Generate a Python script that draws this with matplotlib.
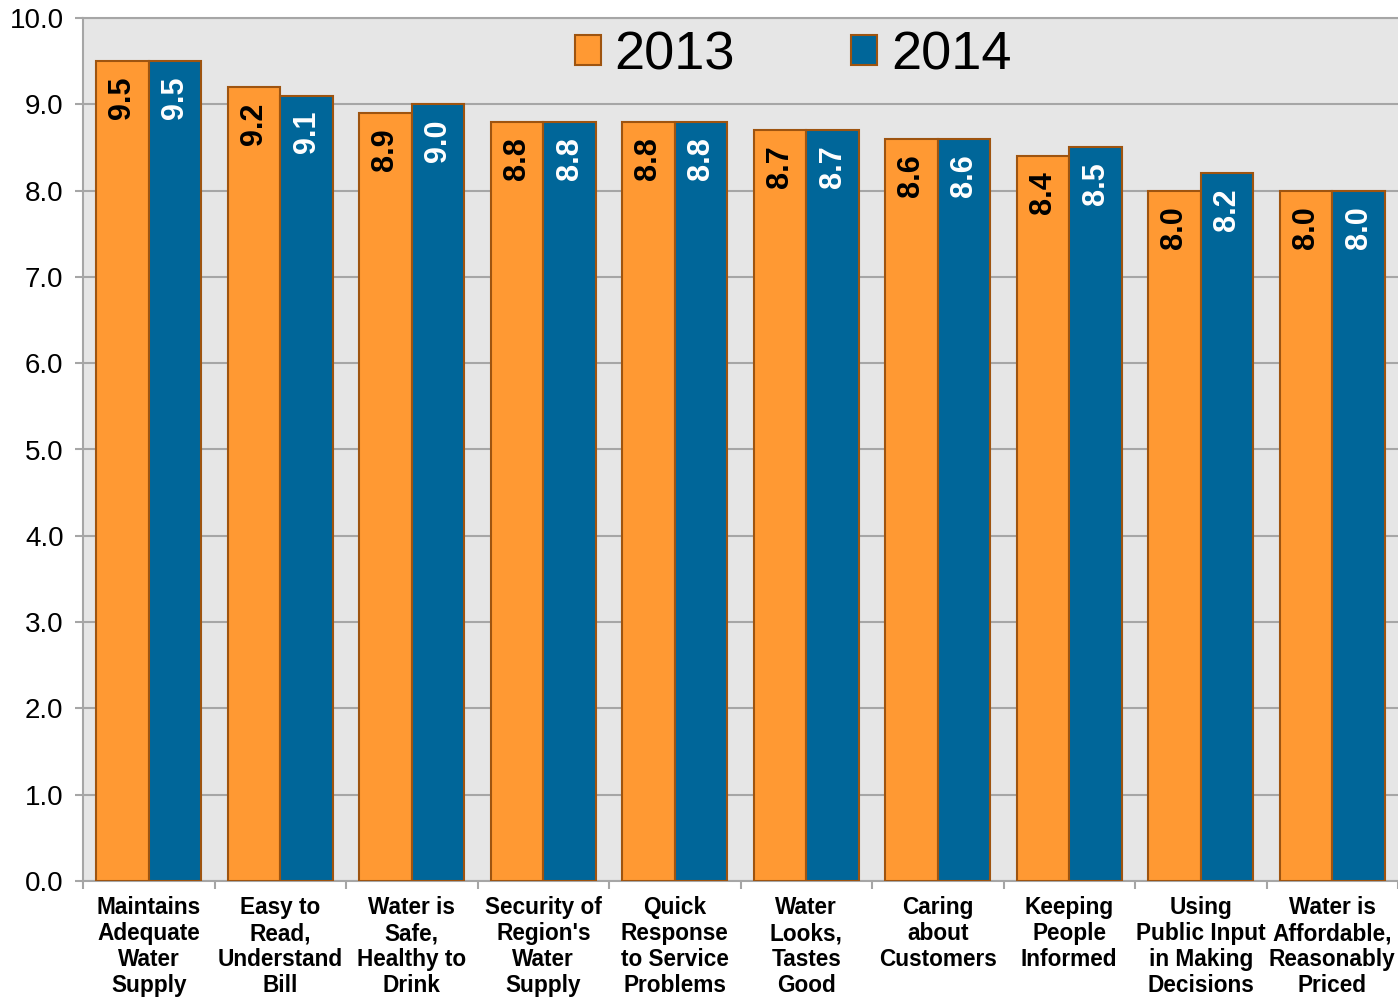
import numpy as np
import matplotlib.pyplot as plt

# ------------------------- Data -------------------------
categories = [
    "Maintains\nAdequate\nWater\nSupply",
    "Easy to\nRead,\nUnderstand\nBill",
    "Water is\nSafe,\nHealthy to\nDrink",
    "Security of\nRegion's\nWater\nSupply",
    "Quick\nResponse\nto Service\nProblems",
    "Water\nLooks,\nTastes\nGood",
    "Caring\nabout\nCustomers",
    "Keeping\nPeople\nInformed",
    "Using\nPublic Input\nin Making\nDecisions",
    "Water is\nAffordable,\nReasonably\nPriced",
]
scores_2013 = [9.5, 9.2, 8.9, 8.8, 8.8, 8.7, 8.6, 8.4, 8.0, 8.0]
scores_2014 = [9.5, 9.1, 9.0, 8.8, 8.8, 8.7, 8.6, 8.5, 8.2, 8.0]

ORANGE = "#FF9933"
BLUE = "#006699"
EDGE = "#9E5410"
GRID = "#A6A6A6"

plt.rcParams['font.family'] = ['Liberation Sans', 'DejaVu Sans']

fig = plt.figure(figsize=(13.98, 9.98), dpi=100)
ax = fig.add_axes([83 / 1398, 1 - 881 / 998, 1 - 83 / 1398, (881 - 18) / 998])
ax.set_facecolor("#E6E6E6")

x = np.arange(len(categories))
w = 0.4
b1 = ax.bar(x - w / 2, scores_2013, w, color=ORANGE, edgecolor=EDGE, linewidth=1.5,
            label="2013", zorder=3)
b2 = ax.bar(x + w / 2, scores_2014, w, color=BLUE, edgecolor=EDGE, linewidth=1.5,
            label="2014", zorder=3)

# value labels inside the bar tops
for bars, vals, col in [(b1, scores_2013, "black"), (b2, scores_2014, "white")]:
    for rect, v in zip(bars, vals):
        ax.annotate(f"{v:.1f}", (rect.get_x() + rect.get_width() / 2, v),
                    xytext=(0, -11), textcoords="offset points",
                    rotation=90, ha="center", va="top",
                    fontsize=22, fontweight="bold", color=col, zorder=4)

ax.set_xlim(-0.5, len(categories) - 0.5)
ax.set_ylim(0, 10)
ax.set_yticks(np.arange(0, 10.1, 1))
ax.set_yticklabels([f"{t:.1f}" for t in np.arange(0, 10.1, 1)], fontsize=20)
ax.yaxis.grid(True, color=GRID, linewidth=1.5, zorder=0)
ax.set_axisbelow(True)

# boundaries as major ticks, labels at centres as minor ticks
ax.set_xticks(np.arange(-0.5, len(categories), 1))
ax.set_xticklabels([])
ax.set_xticks(x, minor=True)
ax.set_xticklabels(categories, minor=True, fontsize=16.3, fontweight="bold",
                   linespacing=1.17)
ax.tick_params(axis="x", which="minor", length=0, pad=11)
ax.tick_params(axis="x", which="major", length=6, width=1.5, color=GRID)
ax.tick_params(axis="y", length=6, width=1.5, color=GRID, pad=8)

for side in ["left", "bottom", "top"]:
    ax.spines[side].set_color(GRID)
    ax.spines[side].set_linewidth(1.5)
ax.spines["right"].set_visible(False)

leg = ax.legend(loc="upper center", bbox_to_anchor=(0.54, 0.992), ncol=2,
                frameon=False, fontsize=39, handlelength=0.48, handleheight=0.48,
                handletextpad=0.25, columnspacing=2.15, borderaxespad=0.0,
                borderpad=0.1)

fig.savefig("out.png", dpi=100)
